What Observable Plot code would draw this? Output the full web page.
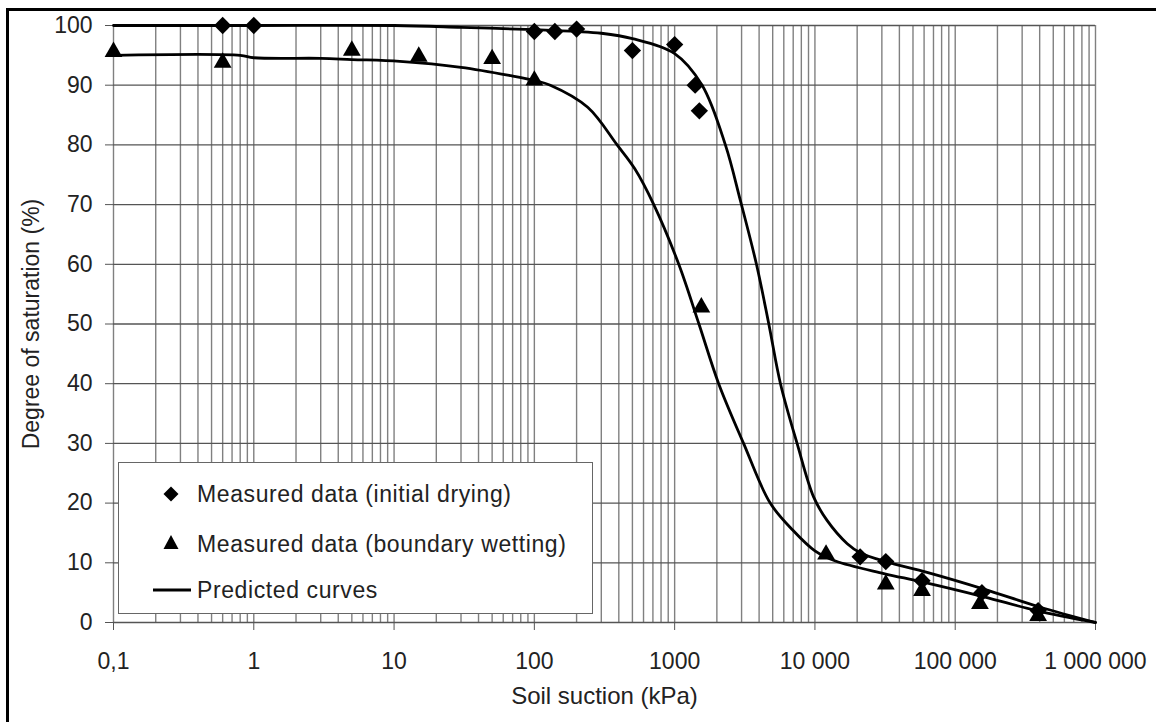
<!DOCTYPE html>
<html>
<head>
<meta charset="utf-8">
<script src="https://cdn.jsdelivr.net/npm/d3@7"></script>
<script src="https://cdn.jsdelivr.net/npm/@observablehq/plot@0.6"></script>
<style>
  html, body { margin: 0; padding: 0; background: #fff; }
  body { font-family: "Liberation Sans", Arial, sans-serif; }
  #wrap { position: relative; width: 1156px; height: 722px; overflow: hidden; background: #fff; }
  #chart { position: absolute; left: 0; top: 0; }
  #frame { position: absolute; left: 6px; top: 8px; width: 1300px; height: 900px;
           border-left: 3px solid #000; border-top: 3px solid #000; pointer-events: none; }
  #legend { position: absolute; left: 118px; top: 462px; width: 475px; height: 152px;
            background: #fff; border: 1.5px solid #666; box-sizing: border-box; }
  .item { position: absolute; left: 0; height: 30px; display: flex; align-items: center;
          font-size: 23px; color: #222; letter-spacing: 0.6px; white-space: nowrap; }
  .item svg { position: absolute; }
  .item span { position: absolute; left: 78px; }
</style>
</head>
<body>
<div id="wrap">
  <div id="chart"></div>
  <div id="legend">
    <div class="item" style="top:16px;width:470px">
      <svg width="20" height="20" style="left:42px;top:5px"><polygon points="10,2.5 17.5,10 10,17.5 2.5,10" fill="#000"/></svg>
      <span id="lg1"></span>
    </div>
    <div class="item" style="top:66px;width:470px">
      <svg width="20" height="20" style="left:42px;top:4px"><polygon points="10,2 17.5,16 2.5,16" fill="#000"/></svg>
      <span id="lg2"></span>
    </div>
    <div class="item" style="top:112px;width:470px">
      <svg width="40" height="10" style="left:34px;top:10px"><line x1="0" y1="5" x2="38" y2="5" stroke="#000" stroke-width="3"/></svg>
      <span id="lg3"></span>
    </div>
  </div>
  <div id="frame"></div>
</div>
<script>
// ---- Data ----
const xTicks = [0.1, 1, 10, 100, 1000, 10000, 100000, 1000000];
const xTickLabels = ["0,1", "1", "10", "100", "1000", "10 000", "100 000", "1 000 000"];
const yTicks = [0, 10, 20, 30, 40, 50, 60, 70, 80, 90, 100];

const legendLabels = ["Measured data (initial drying)", "Measured data (boundary wetting)", "Predicted curves"];
const xTitle = "Soil suction (kPa)";
const yTitle = "Degree of saturation (%)";

// Measured data (initial drying) - diamonds
const dryX = [0.6, 1, 100, 140, 200, 500, 1000, 1400, 1500, 21000, 32000, 58000, 155000, 390000];
const dryY = [100, 100, 99, 99, 99.4, 95.8, 96.8, 90, 85.7, 11, 10.2, 7, 5, 2];

// Measured data (boundary wetting) - triangles
const wetX = [0.1, 0.6, 5, 15, 50, 100, 1550, 12000, 32000, 58000, 150000, 390000];
const wetY = [95.6, 93.8, 95.8, 94.8, 94.4, 90.8, 52.8, 11.4, 6.4, 5.3, 3.1, 1.1];

// Predicted curves
const dryCurveX = [0.1, 1, 10, 30, 100, 200, 300, 500, 1000, 1570, 2300, 2940, 3830, 4690, 5680, 7460, 9800, 12200, 17000, 21000, 32000, 63000, 160000, 400000, 1000000];
const dryCurveY = [100, 100, 100, 99.7, 99.3, 99.0, 98.7, 97.8, 95.3, 90, 80, 70.7, 60, 50, 40, 30, 21, 17.1, 13.2, 11.7, 10.2, 8.4, 5.6, 2.6, 0];

const wetCurveX = [0.1, 0.8, 1, 3, 5, 11, 30, 68, 100, 130, 240, 389, 520, 710, 1070, 1490, 2060, 3100, 4800, 7000, 10000, 14000, 31000, 58000, 160000, 380000, 1000000];
const wetCurveY = [95, 95, 94.6, 94.5, 94.3, 94.0, 93.0, 91.6, 90.8, 90, 86.3, 80, 76, 70, 60, 50, 40, 30, 20, 15.4, 12.0, 10.3, 8.2, 6.8, 4.3, 2.0, 0];

// ---- Build tables ----
const zip = (xs, ys) => xs.map((x, i) => ({x, y: ys[i]}));
const dryPts = zip(dryX, dryY);
const wetPts = zip(wetX, wetY);
const dryCurve = zip(dryCurveX, dryCurveY);
const wetCurve = zip(wetCurveX, wetCurveY);

// log grid positions: 1..9 per decade
const gridX = [];
for (let i = 0; i < xTicks.length - 1; i++) {
  for (let m = 1; m <= 9; m++) gridX.push(m * xTicks[i]);
}
gridX.push(xTicks[xTicks.length - 1]);

const font = '"Liberation Sans", Arial, sans-serif';

const chart = Plot.plot({
  width: 1156,
  height: 722,
  marginLeft: 113,
  marginRight: 61,
  marginTop: 25,
  marginBottom: 100,
  style: { fontFamily: font, fontSize: "23px", color: "#222", background: "transparent", overflow: "visible" },
  x: { type: "log", domain: [0.1, 1000000] },
  y: { domain: [0, 100] },
  marks: [
    Plot.ruleX(gridX, { stroke: "#808080", strokeWidth: 1.4 }),
    Plot.ruleY(yTicks, { stroke: "#555", strokeWidth: 1.3 }),
    Plot.axisY({ ticks: yTicks, tickSize: 8, tickPadding: 13, label: null, stroke: "#555", fontSize: 23 }),
    Plot.axisX({ ticks: xTicks, tickFormat: (d) => xTickLabels[xTicks.indexOf(d)], tickSize: 8, tickPadding: 22, label: null, stroke: "#555", fontSize: 23 }),
    Plot.line(dryCurve, { x: "x", y: "y", curve: "catmull-rom", stroke: "#000", strokeWidth: 2.8 }),
    Plot.line(wetCurve, { x: "x", y: "y", curve: "catmull-rom", stroke: "#000", strokeWidth: 2.8 }),
    Plot.dot(dryPts, { x: "x", y: "y", symbol: "diamond2", r: 7.8, fill: "#000", stroke: null }),
    Plot.dot(wetPts, { x: "x", y: "y", symbol: "triangle", r: 6.6, fill: "#000", stroke: null }),
    Plot.text([yTitle], { frameAnchor: "left", dx: -82, rotate: -90, fontSize: 23, fill: "#222", textAnchor: "middle" }),
    Plot.text([xTitle], { frameAnchor: "bottom", dy: 81, fontSize: 24, fill: "#222", textAnchor: "middle" })
  ]
});
document.getElementById("chart").appendChild(chart);
document.getElementById("lg1").textContent = legendLabels[0];
document.getElementById("lg2").textContent = legendLabels[1];
document.getElementById("lg3").textContent = legendLabels[2];
</script>
</body>
</html>
